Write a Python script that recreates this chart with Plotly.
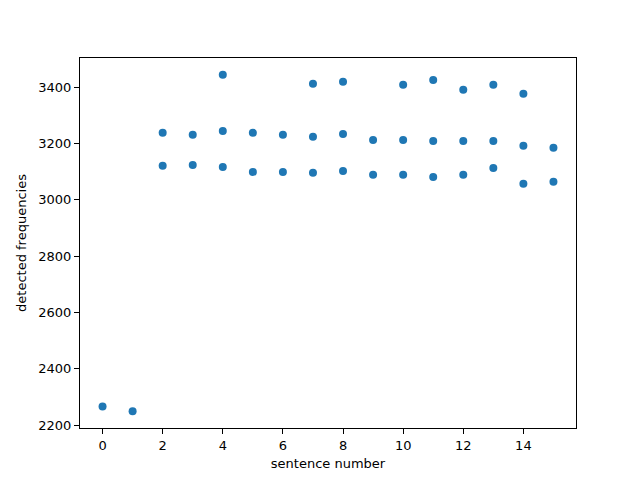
import plotly.graph_objects as go

sentence = [0, 1,
            2, 3, 4, 5, 6, 7, 8, 9, 10, 11, 12, 13, 14, 15,
            2, 3, 4, 5, 6, 7, 8, 9, 10, 11, 12, 13, 14, 15,
            4, 7, 8, 10, 11, 12, 13, 14]
frequencies = [2267, 2250,
               3121, 3124, 3117, 3099, 3099, 3096, 3103, 3089, 3089, 3081, 3089, 3113, 3057, 3064,
               3238, 3231, 3245, 3238, 3231, 3224, 3234, 3213, 3213, 3209, 3209, 3209, 3192, 3185,
               3444, 3412, 3419, 3409, 3426, 3391, 3409, 3377]

x_ticks = [0, 2, 4, 6, 8, 10, 12, 14]
y_ticks = [2200, 2400, 2600, 2800, 3000, 3200, 3400]

fig = go.Figure(go.Scatter(
    x=sentence, y=frequencies, mode="markers",
    marker=dict(color="#1f77b4", size=8, line=dict(width=0)),
))

axis_common = dict(
    showgrid=False, zeroline=False, showline=True, linecolor="black", linewidth=1,
    mirror=True, ticks="outside", ticklen=5, tickwidth=1, tickcolor="black",
    automargin=False,
    tickfont=dict(family="DejaVu Sans", size=13, color="black"),
)

fig.update_layout(
    width=640, height=480,
    margin=dict(l=72, r=72, t=50, b=60),
    paper_bgcolor="white", plot_bgcolor="white",
    showlegend=False,
    font=dict(family="DejaVu Sans", size=13, color="black"),
    xaxis=dict(range=[-0.75, 15.75], tickvals=x_ticks,
               title=dict(text="sentence number", standoff=7,
                          font=dict(family="DejaVu Sans", size=13)), **axis_common),
    yaxis=dict(range=[2190.3, 3503.7], tickvals=y_ticks,
               title=dict(text="detected frequencies", standoff=8,
                          font=dict(family="DejaVu Sans", size=13)), **axis_common),
)

fig.write_html("out.html")
